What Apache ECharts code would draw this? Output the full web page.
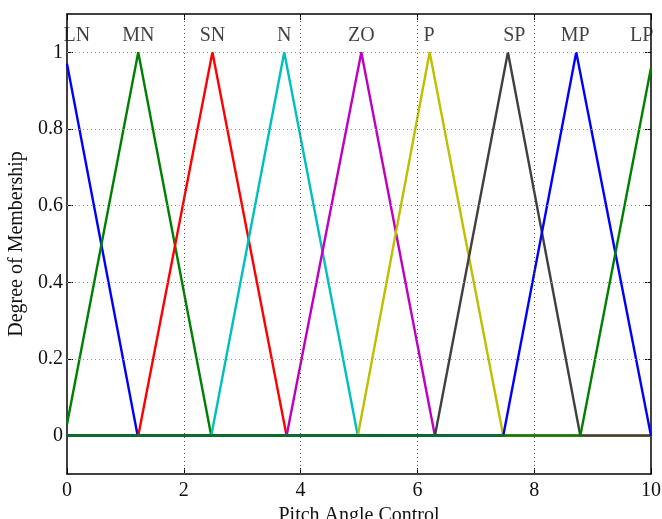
<!DOCTYPE html>
<html>
<head>
<meta charset="utf-8">
<script src="https://cdn.jsdelivr.net/npm/echarts@6/dist/echarts.min.js"></script>
<style>html,body{margin:0;padding:0;background:#fff}#c{width:662px;height:519px}</style>
</head>
<body>
<div id="c"></div>
<script>
// Membership function breakpoints [x, degree]
const LN = [[0,0.97],[1.21,0],[10,0]];
const MN = [[0,0.03],[1.22,1],[2.47,0],[10,0]];
const SN = [[0,0],[1.22,0],[2.49,1],[3.76,0],[10,0]];
const N  = [[0,0],[2.47,0],[3.72,1],[4.98,0],[10,0]];
const ZO = [[0,0],[3.76,0],[5.04,1],[6.30,0],[10,0]];
const P  = [[0,0],[4.98,0],[6.21,1],[7.47,0],[10,0]];
const SP = [[0,0],[6.30,0],[7.55,1],[8.79,0],[10,0]];
const MP = [[0,0],[7.47,0],[8.72,1],[10,0]];
const LP = [[0,0],[8.79,0],[10,0.96]];

const mfNames = ['LN','MN','SN','N','ZO','P','SP','MP','LP'];
const mfData = [LN, MN, SN, N, ZO, P, SP, MP, LP];
const mfColors = ['#0000ff','#008000','#ff0000','#00bfbf','#bf00bf','#bfbf00','#404040','#0000ff','#008000'];
const labelX = [0.17, 1.22, 2.49, 3.72, 5.04, 6.20, 7.66, 8.70, 9.84];
const labelY = [1.043, 1.043, 1.043, 1.043, 1.043, 1.043, 1.043, 1.043, 1.043];

const xTicks = [0, 2, 4, 6, 8, 10];
const yTicks = [0, 0.2, 0.4, 0.6, 0.8, 1];
const xGrid = [2, 4, 6, 8];
const yGrid = [0.2, 0.4, 0.6, 0.8, 1];

const FONT = 'Liberation Serif';
const chart = echarts.init(document.getElementById('c'), null, {renderer: 'canvas'});

const series = mfData.map((d, i) => ({
  type: 'line', name: mfNames[i], data: d, showSymbol: false, symbol: 'none',
  lineStyle: {color: mfColors[i], width: 2.4}, itemStyle: {color: mfColors[i]},
  z: 3 + i * 0.01, animation: false, clip: false
}));

series.unshift({
  type: 'line', data: [], silent: true, z: 1,
  markLine: {
    silent: true, symbol: 'none', animation: false,
    label: {show: false},
    data: xGrid.map(v => ({xAxis: v, lineStyle: {type: [1, 3], color: '#555', width: 1}}))
      .concat(yGrid.map(v => ({yAxis: v, lineStyle: {type: [1, 3], color: '#999', width: 1}})))
  }
});

series.push({
  type: 'scatter', symbolSize: 0, z: 2, silent: true, animation: false,
  data: mfNames.map((n, i) => ({name: n, value: [labelX[i], labelY[i]]})),
  label: {show: true, position: 'inside', formatter: p => p.name,
    fontFamily: FONT, fontSize: 20, color: '#111'}
});

const tickCommon = {inside: true, length: 6, lineStyle: {color: '#000', width: 1}};

chart.setOption({
  animation: false,
  backgroundColor: '#fff',
  grid: {left: 67, right: 11, top: 14, bottom: 45, containLabel: false, outerBoundsMode: 'none'},
  xAxis: [{
    type: 'value', min: 0, max: 10, interval: 2, position: 'bottom',
    name: 'Pitch Angle Control', nameLocation: 'middle', nameGap: 26,
    nameTextStyle: {fontFamily: FONT, fontSize: 20, color: '#111'},
    axisLine: {show: true, onZero: false, lineStyle: {color: '#000', width: 1.5}},
    axisTick: Object.assign({show: true}, tickCommon),
    axisLabel: {fontFamily: FONT, fontSize: 20, color: '#111', margin: 7},
    splitLine: {show: false}
  }, {
    type: 'value', min: 0, max: 10, interval: 2, position: 'top',
    axisLine: {show: true, onZero: false, lineStyle: {color: '#000', width: 1.5}},
    axisTick: Object.assign({show: true}, tickCommon),
    axisLabel: {show: false}, splitLine: {show: false}
  }],
  yAxis: [{
    type: 'value', min: -0.1, max: 1.1, position: 'left',
    name: 'Degree of Membership', nameLocation: 'middle', nameGap: 36,
    nameTextStyle: {fontFamily: FONT, fontSize: 20, color: '#111'},
    axisLine: {show: true, onZero: false, lineStyle: {color: '#000', width: 1.5}},
    axisTick: Object.assign({show: true, customValues: yTicks}, tickCommon),
    axisLabel: {fontFamily: FONT, fontSize: 20, color: '#111', margin: 4, customValues: yTicks,
      formatter: v => String(Math.round(v * 10) / 10)},
    splitLine: {show: false}
  }, {
    type: 'value', min: -0.1, max: 1.1, position: 'right',
    axisLine: {show: true, onZero: false, lineStyle: {color: '#000', width: 1.5}},
    axisTick: Object.assign({show: true, customValues: yTicks}, tickCommon),
    axisLabel: {show: false, customValues: yTicks}, splitLine: {show: false}
  }],
  series: series
});
</script>
</body>
</html>
